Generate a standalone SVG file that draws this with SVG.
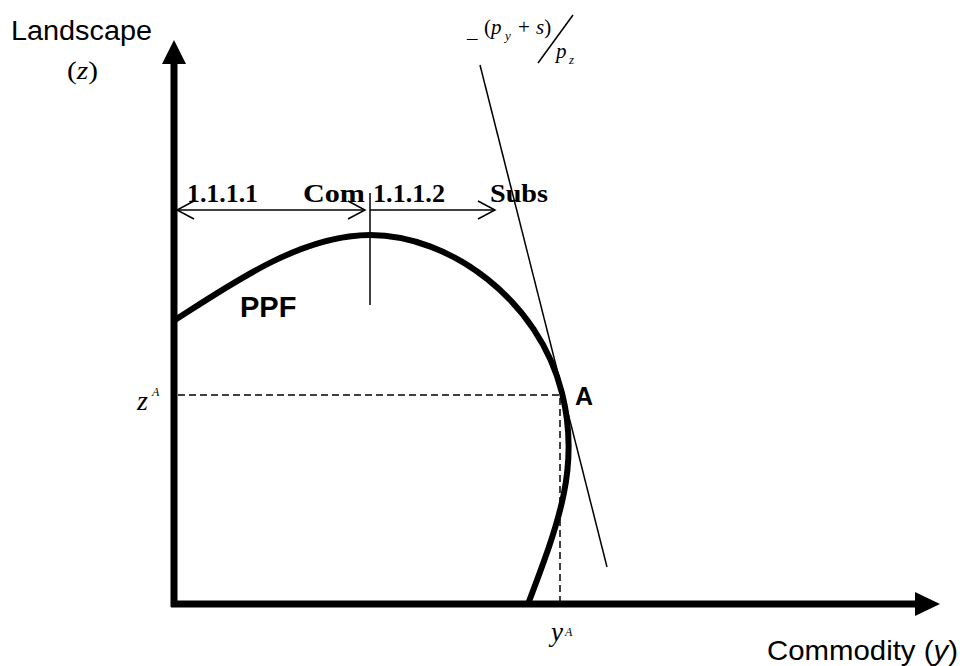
<svg xmlns="http://www.w3.org/2000/svg" width="960" height="666" viewBox="0 0 960 666">
<style>
.sans{font-family:"Liberation Sans",Arial,sans-serif;fill:#000}
.serif{font-family:"Liberation Serif","Times New Roman",serif;fill:#000}
.it{font-style:italic}
.b{font-weight:bold}
.thin{stroke:#000;stroke-width:1.5;fill:none}
.dash{stroke:#000;stroke-width:1.5;stroke-dasharray:7 4;fill:none}
</style>
<defs>
<marker id="open" viewBox="0 0 20 20" refX="18" refY="10" markerWidth="20" markerHeight="20" markerUnits="userSpaceOnUse" orient="auto-start-reverse">
<path d="M1,1 L18,10 L1,19" fill="none" stroke="#000" stroke-width="1.5"/>
</marker>
</defs>
<rect width="960" height="666" fill="#fff"/>
<g id="axes">
<line x1="174" y1="607" x2="174" y2="60" stroke="#000" stroke-width="7"/>
<polygon points="174,40 162,64 186,64" fill="#000"/>
<line x1="171" y1="604" x2="918" y2="604" stroke="#000" stroke-width="7"/>
<polygon points="940,604 915,592 915,616" fill="#000"/>
</g>
<g id="ppf">
<path d="M175,320 C230,285 300,235 370,235 C450,235 539,300 562,393 C580,465 560,520 528,604" fill="none" stroke="#000" stroke-width="6"/>
</g>
<g id="connectors">
<line class="thin" x1="480" y1="65" x2="607" y2="567" stroke-width="2"/>
<line class="thin" x1="370" y1="193" x2="370" y2="305"/>
<line class="thin" x1="177" y1="210" x2="365" y2="210" marker-start="url(#open)" marker-end="url(#open)"/>
<line class="thin" x1="370" y1="210" x2="495" y2="210" marker-end="url(#open)"/>
<line class="dash" x1="178" y1="395" x2="562" y2="395"/>
<line class="dash" x1="560" y1="398" x2="560" y2="601"/>
<line class="thin" x1="573" y1="15" x2="538" y2="63"/>
</g>
<g id="labels">
<text class="sans" x="11" y="40" font-size="27" textLength="141" lengthAdjust="spacingAndGlyphs">Landscape</text>
<text class="serif" x="67" y="79" font-size="26" textLength="31" lengthAdjust="spacingAndGlyphs">(<tspan class="it">z</tspan>)</text>
<text class="sans" x="767" y="660" font-size="28" textLength="191" lengthAdjust="spacingAndGlyphs">Commodity (<tspan class="it">y</tspan>)</text>
<text class="sans b" x="240" y="317" font-size="29">PPF</text>
<text class="sans b" x="575" y="405" font-size="25">A</text>
<text class="serif b" x="187" y="202" font-size="25" textLength="71" lengthAdjust="spacingAndGlyphs">1.1.1.1</text>
<text class="serif b" x="303" y="202" font-size="25" textLength="62" lengthAdjust="spacingAndGlyphs">Com</text>
<text class="serif b" x="373" y="202" font-size="25" textLength="72" lengthAdjust="spacingAndGlyphs">1.1.1.2</text>
<text class="serif b" x="490" y="202" font-size="25" textLength="58" lengthAdjust="spacingAndGlyphs">Subs</text>
<text class="serif it" x="137" y="410" font-size="28">z</text>
<text class="serif it" x="152" y="396" font-size="12">A</text>
<text class="serif it" x="551" y="641" font-size="27">y</text>
<text class="serif it" x="565" y="636" font-size="12">A</text>
<text class="serif" x="467" y="45" font-size="21">–</text>
<text class="serif" x="484" y="34" font-size="21">(<tspan class="it">p</tspan></text>
<text class="serif it" x="505" y="40" font-size="13">y</text>
<text class="serif" x="518" y="34" font-size="21">+</text>
<text class="serif" x="536" y="34" font-size="21"><tspan class="it">s</tspan>)</text>
<text class="serif it" x="556" y="58" font-size="21">p</text>
<text class="serif it" x="569" y="64" font-size="13">z</text>
</g>
</svg>
